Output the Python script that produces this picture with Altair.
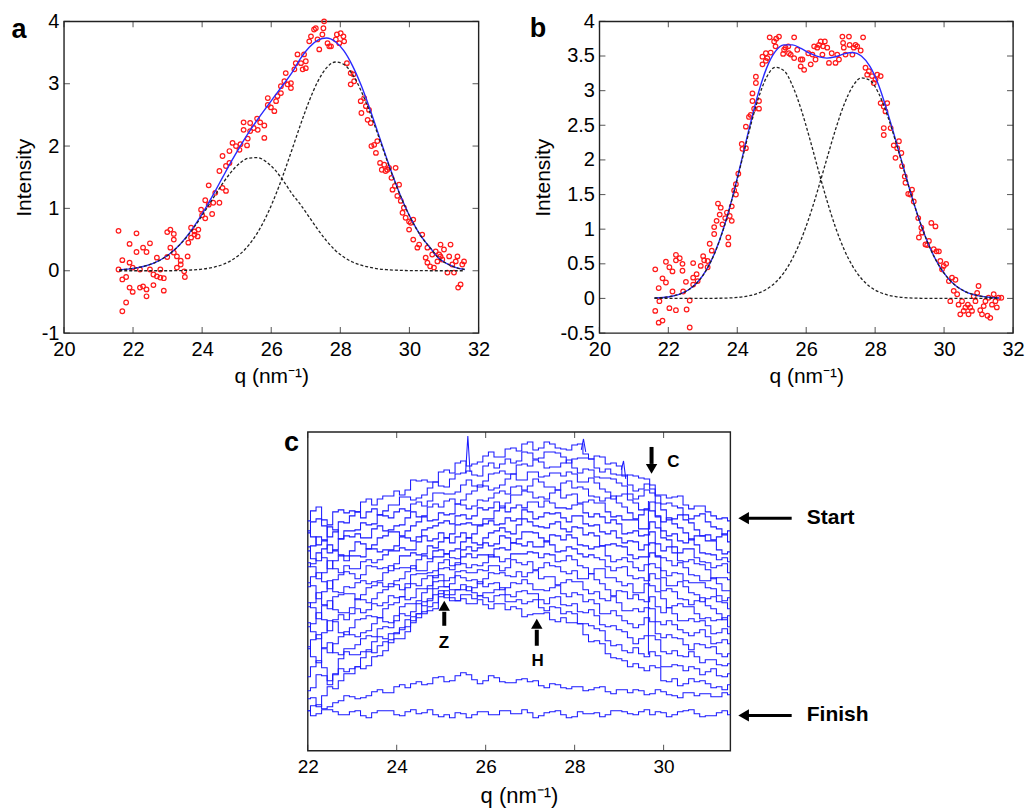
import altair as alt
import pandas as pd

FONT = "Liberation Sans"
TXT = "q (nm\u207b\u00b9)"

# ---------------- panel a ----------------
fit_q = [21.6, 21.85, 22.1, 22.35, 22.6, 22.85, 23.1, 23.35, 23.6, 23.85, 24.1, 24.35, 24.6, 24.85,
         25.1, 25.35, 25.6, 25.85, 26.1, 26.35, 26.6, 26.85, 27.1, 27.35, 27.6, 27.85, 28.1, 28.35,
         28.6, 28.85, 29.1, 29.35, 29.6, 29.85, 30.1, 30.35, 30.6, 30.85, 31.1, 31.35, 31.6]
a_fit = [0.014, 0.026, 0.045, 0.076, 0.123, 0.192, 0.288, 0.416, 0.582, 0.779, 1.004, 1.250, 1.505, 1.757,
         1.996, 2.218, 2.422, 2.614, 2.800, 2.987, 3.178, 3.407, 3.585, 3.698, 3.734, 3.678, 3.530, 3.291,
         2.978, 2.603, 2.195, 1.788, 1.404, 1.063, 0.775, 0.544, 0.368, 0.20, 0.11, 0.05, 0.02]
a_comp1 = [0.014, 0.026, 0.045, 0.076, 0.123, 0.192, 0.288, 0.415, 0.573, 0.762, 0.972, 1.192, 1.405, 1.590,
           1.729, 1.807, 1.814, 1.750, 1.622, 1.444, 1.236, 1.06, 0.86, 0.66, 0.48, 0.33, 0.22, 0.14,
           0.09, 0.055, 0.03, 0.017, 0.009, 0.004, 0.002, 0.001, 0, 0, 0, 0, 0]
a_comp2 = [0, 0, 0, 0, 0, 0, 0, 0.001, 0.009, 0.017, 0.032, 0.058, 0.100, 0.167,
           0.267, 0.411, 0.608, 0.864, 1.178, 1.543, 1.942, 2.347, 2.725, 3.038, 3.254, 3.348, 3.310, 3.151,
           2.888, 2.548, 2.165, 1.771, 1.395, 1.059, 0.773, 0.543, 0.368, 0.20, 0.11, 0.05, 0.02]
a_points = [
    (21.58, 0.64), (21.58, 0.02), (21.69, 0.17), (21.69, -0.14), (21.69, -0.65), (21.80, -0.51), (21.80, -0.10),
    (21.90, 0.13), (21.90, 0.43), (21.90, -0.27), (21.99, -0.34), (21.99, 0.05), (22.10, 0.60), (22.10, 0.30),
    (22.20, 0.02), (22.20, -0.27), (22.29, 0.37), (22.29, -0.25), (22.39, 0.30), (22.39, -0.30), (22.39, -0.41),
    (22.49, 0.44), (22.49, 0.02), (22.59, -0.06), (22.59, -0.23), (22.69, 0.21), (22.69, -0.09), (22.79, 0.02),
    (22.79, -0.11), (22.89, -0.12), (22.89, -0.32), (22.99, 0.62), (22.99, 0.22), (23.08, 0.66), (23.08, 0.37),
    (23.18, 0.59), (23.18, 0.50), (23.18, 0.29), (23.27, 0.23), (23.27, 0.05), (23.38, 0.16), (23.38, 0.10),
    (23.48, -0.01), (23.50, -0.10), (23.58, 0.23), (23.60, 0.45), (23.68, 0.53), (23.68, 0.69), (23.78, 0.58),
    (23.78, 0.63), (23.87, 0.55), (23.89, 0.66), (23.97, 0.98), (24.00, 0.89), (24.09, 1.13), (24.09, 0.84),
    (24.19, 1.37), (24.19, 1.06), (24.29, 0.91), (24.32, 1.09), (24.38, 1.25), (24.50, 1.09), (24.50, 1.60),
    (24.59, 1.33), (24.59, 1.84), (24.69, 1.28), (24.69, 1.68), (24.79, 1.73), (24.79, 1.92), (24.88, 2.05),
    (24.98, 2.00), (25.08, 1.94), (25.11, 2.03), (25.20, 2.38), (25.20, 2.26), (25.30, 2.01), (25.32, 2.12),
    (25.39, 2.37), (25.39, 2.24), (25.49, 2.29), (25.59, 2.44), (25.61, 2.26), (25.68, 2.38), (25.80, 2.33),
    (25.80, 2.13), (25.90, 2.77), (25.90, 2.66),
    (25.99, 2.62), (26.09, 2.56), (26.14, 2.72), (26.18, 2.80), (26.28, 2.85), (26.28, 2.96), (26.38, 3.04),
    (26.42, 3.17), (26.47, 2.99), (26.57, 2.93), (26.57, 3.01), (26.67, 3.23), (26.71, 3.33), (26.76, 3.47),
    (26.86, 3.33), (26.91, 3.23), (26.95, 3.47), (27.00, 3.36), (27.00, 3.25), (27.10, 3.68), (27.15, 3.76),
    (27.24, 3.87), (27.29, 3.89), (27.34, 3.71), (27.39, 3.55), (27.48, 3.79), (27.51, 3.89), (27.53, 4.00),
    (27.63, 3.65), (27.68, 3.60), (27.73, 3.60), (27.87, 3.71), (27.90, 3.79), (27.97, 3.65), (28.01, 3.81),
    (28.09, 3.76), (28.11, 3.68), (28.19, 3.33), (28.30, 3.17), (28.30, 2.99), (28.38, 3.15), (28.40, 3.04),
    (28.59, 2.72), (28.61, 2.53), (28.69, 2.77), (28.74, 2.64), (28.79, 2.42), (28.83, 2.58), (28.88, 2.37),
    (28.90, 2.00), (28.98, 2.02), (29.03, 1.89), (29.07, 2.08), (29.15, 1.73), (29.20, 1.62), (29.27, 1.70),
    (29.31, 1.60), (29.36, 1.62), (29.41, 1.65), (29.48, 1.49), (29.51, 1.30), (29.58, 1.36), (29.60, 1.65),
    (29.65, 1.20), (29.70, 1.38), (29.75, 1.12), (29.80, 0.93), (29.84, 1.01), (29.89, 0.85), (29.99, 0.66),
    (29.99, 0.79), (30.04, 0.77), (30.11, 0.82), (30.11, 0.50), (30.23, 0.37), (30.28, 0.42), (30.37, 0.58),
    (30.47, 0.21), (30.52, 0.13), (30.52, 0.37), (30.60, 0.07), (30.66, 0.26), (30.71, 0.05), (30.76, 0.31),
    (30.81, 0.15), (30.86, 0.26), (30.90, 0.42), (30.90, 0.23), (30.95, 0.18), (31.00, 0.34), (31.10, -0.03),
    (31.15, 0.23), (31.19, 0.42), (31.24, 0.10), (31.29, -0.03), (31.34, 0.15), (31.39, 0.23), (31.41, -0.27),
    (31.48, -0.22), (31.53, 0.10), (31.58, 0.15),
]
ab_xticks = [20, 22, 24, 26, 28, 30, 32]
a_yticks = [-1, 0, 1, 2, 3, 4]

# ---------------- panel b ----------------
b_fit = [0.006, 0.014, 0.032, 0.066, 0.129, 0.237, 0.408, 0.663, 1.009, 1.444, 1.943, 2.464, 2.946, 3.325,
         3.563, 3.661, 3.66, 3.61, 3.54, 3.49, 3.47, 3.49, 3.53, 3.55, 3.50, 3.35, 3.08, 2.70,
         2.28, 1.84, 1.41, 1.034, 0.720, 0.477, 0.300, 0.180, 0.103, 0.056, 0.029, 0.014, 0.007]
b_comp1 = [0.006, 0.014, 0.032, 0.066, 0.129, 0.237, 0.408, 0.661, 1.005, 1.435, 1.924, 2.425, 2.872, 3.193,
           3.336, 3.291, 3.075, 2.734, 2.311, 1.855, 1.416, 1.026, 0.707, 0.463, 0.288, 0.170, 0.096, 0.051,
           0.026, 0.012, 0.005, 0.002, 0.001, 0, 0, 0, 0, 0, 0, 0, 0]
b_comp2 = [0, 0, 0, 0, 0, 0, 0, 0.002, 0.004, 0.009, 0.019, 0.039, 0.074, 0.132,
           0.227, 0.370, 0.575, 0.848, 1.190, 1.589, 2.018, 2.438, 2.801, 3.062, 3.184, 3.149, 2.963, 2.651,
           2.257, 1.828, 1.408, 1.032, 0.719, 0.477, 0.300, 0.180, 0.103, 0.056, 0.029, 0.014, 0.007]
b_points = [
    (21.62, 0.42), (21.62, -0.18), (21.72, 0.15), (21.72, -0.35), (21.74, -0.04), (21.83, 0.29), (21.83, -0.32),
    (21.93, 0.53), (21.93, 0.23), (22.03, 0.45), (22.03, -0.14), (22.12, 0.39), (22.12, 0.10), (22.22, 0.63),
    (22.22, 0.55), (22.22, -0.17), (22.33, 0.58), (22.41, 0.40), (22.41, 0.50), (22.43, 0.10), (22.51, 0.24),
    (22.53, -0.16), (22.62, -0.42), (22.62, -0.03), (22.72, 0.51), (22.72, 0.30), (22.72, 0.20), (22.82, 0.35),
    (22.85, 0.25), (22.94, 0.47), (23.01, 0.61), (23.04, 0.55), (23.14, 0.45), (23.14, 0.54), (23.20, 0.79),
    (23.26, 0.69), (23.33, 0.93), (23.33, 1.03), (23.40, 1.12), (23.44, 1.37), (23.49, 1.21), (23.52, 1.31),
    (23.57, 1.07), (23.65, 1.16), (23.70, 1.24), (23.74, 0.88), (23.74, 0.78), (23.78, 1.19), (23.84, 1.33),
    (23.84, 1.12), (23.91, 1.56), (23.96, 1.65), (23.96, 1.50), (24.03, 1.80), (24.13, 2.23), (24.15, 2.16),
    (24.25, 2.17), (24.25, 2.48), (24.34, 2.62), (24.39, 2.65), (24.44, 2.96), (24.44, 2.85), (24.49, 2.74),
    (24.54, 3.11), (24.54, 3.20), (24.63, 2.85), (24.63, 2.74), (24.73, 3.49), (24.73, 3.38), (24.83, 3.54),
    (24.83, 3.43), (24.87, 3.47), (24.94, 3.77), (24.97, 3.55), (25.07, 3.71), (25.11, 3.64), (25.13, 3.75),
    (25.21, 3.78), (25.33, 3.53), (25.36, 3.59), (25.40, 3.62), (25.48, 3.64), (25.50, 3.54), (25.55, 3.52),
    (25.65, 3.77), (25.65, 3.47), (25.74, 3.59), (25.84, 3.45), (25.84, 3.35), (26.06, 3.54),
    (25.89, 3.45), (25.94, 3.30), (26.13, 3.38), (26.18, 3.52), (26.23, 3.64), (26.27, 3.45), (26.32, 3.62),
    (26.37, 3.66), (26.42, 3.71), (26.47, 3.52), (26.49, 3.64), (26.54, 3.71), (26.61, 3.62), (26.66, 3.40),
    (26.74, 3.54), (26.85, 3.40), (26.90, 3.52), (26.95, 3.45), (27.05, 3.78), (27.07, 3.69), (27.09, 3.62),
    (27.14, 3.52), (27.24, 3.78), (27.26, 3.66), (27.34, 3.52), (27.38, 3.62), (27.43, 3.66), (27.48, 3.64),
    (27.58, 3.58), (27.65, 3.77), (27.72, 3.33), (27.77, 3.23), (27.82, 3.28), (27.91, 3.21), (27.96, 3.11),
    (28.01, 3.16), (28.06, 3.23), (28.16, 3.21), (28.16, 2.82), (28.25, 2.77), (28.30, 2.70), (28.35, 2.82),
    (28.25, 2.46), (28.25, 2.36), (28.45, 2.46), (28.54, 2.21), (28.59, 2.03), (28.64, 2.17), (28.69, 2.27),
    (28.76, 2.10), (28.78, 1.91), (28.86, 1.76), (28.88, 1.67), (28.96, 1.51), (29.02, 1.50), (29.07, 1.57),
    (29.12, 1.40), (29.25, 1.16), (29.27, 0.88), (29.34, 1.02), (29.36, 0.95), (29.46, 0.78), (29.51, 0.77),
    (29.56, 0.83), (29.63, 1.09), (29.70, 0.71), (29.75, 1.04), (29.78, 0.68), (29.85, 0.68), (29.89, 0.54),
    (29.94, 0.42), (29.99, 0.47), (30.06, 0.50), (30.14, 0.25), (30.18, -0.04), (30.23, 0.30), (30.28, 0.11),
    (30.33, 0.27), (30.38, 0.06), (30.42, -0.09), (30.47, -0.23), (30.52, -0.04), (30.57, -0.18), (30.62, -0.13),
    (30.69, -0.09), (30.71, -0.23), (30.76, -0.13), (30.81, -0.18), (30.86, 0.03), (30.91, -0.04), (30.96, 0.08),
    (31.00, 0.18), (31.05, -0.17), (31.10, -0.23), (31.15, -0.11), (31.20, -0.04), (31.26, -0.25), (31.29, 0.01),
    (31.34, -0.28), (31.39, -0.09), (31.44, 0.06), (31.49, -0.04), (31.53, -0.13), (31.58, 0.01), (31.66, 0.01),
]
b_yticks = [-0.5, 0, 0.5, 1, 1.5, 2, 2.5, 3, 3.5, 4]

# ---------------- panel c (waterfall of scans, arbitrary offset units) ----------------
c_q = [22.0, 22.125, 22.25, 22.375, 22.5, 22.625, 22.75, 22.875, 23.0, 23.125, 23.25, 23.375, 23.5, 23.625,
       23.75, 23.875, 24.0, 24.125, 24.25, 24.375, 24.5, 24.625, 24.75, 24.875, 25.0, 25.125, 25.25, 25.375,
       25.5, 25.625, 25.75, 25.875, 26.0, 26.125, 26.25, 26.375, 26.5, 26.625, 26.75, 26.875, 27.0, 27.125,
       27.25, 27.375, 27.5, 27.625, 27.75, 27.875, 28.0, 28.125, 28.25, 28.375, 28.5, 28.625, 28.75, 28.875,
       29.0, 29.125, 29.25, 29.375, 29.5, 29.625, 29.75, 29.875, 30.0, 30.125, 30.25, 30.375, 30.5, 30.625,
       30.75, 30.875, 31.0, 31.125, 31.25, 31.375, 31.5]
c_scan01 = [230, 240, 244, 231, 226, 239, 241, 238, 240, 239, 249, 252, 246, 252, 255, 255, 260, 256, 261, 271,
            270, 271, 269, 269, 279, 281, 278, 288, 290, 285, 287, 289, 295, 299, 294, 294, 302, 303, 300, 307,
            309, 301, 303, 309, 307, 303, 302, 301, 306, 307, 297, 292, 295, 294, 287, 288, 285, 275, 276, 275,
            273, 272, 262, 256, 256, 253, 254, 255, 246, 242, 245, 245, 239, 235, 232, 233, 230]
c_scan02 = [218, 229, 232, 225, 214, 219, 229, 228, 235, 239, 233, 239, 242, 236, 240, 246, 246, 254, 254, 251,
            253, 256, 263, 269, 265, 264, 272, 277, 278, 280, 276, 275, 285, 288, 283, 287, 292, 288, 290, 299,
            298, 292, 293, 299, 299, 298, 294, 288, 292, 293, 293, 292, 283, 279, 282, 277, 276, 276, 266, 260,
            262, 267, 266, 255, 247, 248, 245, 243, 236, 232, 235, 237, 229, 224, 222, 216, 220]
c_scan03 = [220, 214, 206, 210, 224, 221, 212, 220, 220, 221, 228, 226, 227, 236, 235, 233, 239, 242, 240, 247,
            249, 245, 250, 258, 258, 257, 257, 259, 266, 271, 265, 264, 270, 277, 278, 280, 277, 277, 286, 287,
            285, 291, 289, 283, 284, 284, 288, 291, 283, 278, 282, 281, 274, 273, 273, 272, 268, 265, 257, 252,
            255, 261, 258, 248, 241, 231, 232, 236, 231, 228, 221, 215, 216, 211, 214, 217, 209]
c_scan04 = [200, 205, 214, 211, 198, 201, 212, 215, 214, 217, 213, 213, 222, 225, 220, 221, 225, 226, 233, 239,
            234, 235, 244, 247, 244, 250, 252, 247, 251, 257, 260, 266, 265, 261, 263, 266, 272, 277, 271, 271,
            279, 279, 274, 275, 278, 278, 275, 279, 277, 269, 269, 273, 268, 262, 259, 252, 255, 257, 251, 248,
            241, 242, 249, 235, 229, 233, 227, 223, 218, 211, 215, 215, 210, 210, 201, 197, 199]
c_scan05 = [204, 192, 190, 202, 206, 200, 196, 195, 200, 209, 207, 202, 206, 213, 215, 219, 219, 215, 220, 225,
            229, 234, 230, 231, 238, 236, 237, 247, 246, 242, 245, 251, 250, 253, 258, 260, 257, 264, 265, 261,
            265, 272, 269, 264, 264, 261, 268, 270, 263, 264, 262, 255, 254, 250, 253, 255, 248, 244, 238, 232,
            236, 241, 240, 234, 220, 215, 217, 210, 208, 212, 206, 198, 197, 196, 191, 193, 189]
c_scan06 = [184, 187, 198, 193, 182, 190, 195, 190, 195, 195, 194, 202, 202, 199, 201, 201, 205, 214, 213, 210,
            214, 221, 223, 225, 228, 230, 227, 235, 236, 232, 235, 243, 241, 243, 249, 243, 248, 256, 256, 260,
            259, 253, 254, 252, 258, 261, 253, 256, 257, 248, 249, 251, 248, 248, 239, 234, 235, 231, 231, 231,
            222, 222, 229, 223, 213, 211, 204, 198, 202, 202, 193, 189, 188, 183, 185, 187, 178]
c_scan07 = [188, 184, 172, 178, 190, 182, 178, 185, 182, 182, 189, 191, 188, 191, 196, 200, 200, 203, 201, 201,
            209, 215, 210, 212, 218, 213, 217, 226, 227, 228, 226, 226, 232, 232, 240, 245, 239, 243, 246, 243,
            249, 249, 244, 250, 248, 243, 243, 242, 246, 247, 238, 234, 237, 234, 228, 231, 227, 217, 218, 220,
            215, 216, 219, 207, 200, 204, 198, 190, 189, 191, 187, 186, 181, 172, 173, 173, 171]
c_scan08 = [164, 174, 178, 169, 162, 171, 176, 179, 177, 172, 176, 185, 184, 182, 183, 180, 187, 195, 195, 198,
            196, 197, 205, 203, 209, 213, 208, 214, 218, 213, 217, 225, 227, 230, 226, 227, 233, 230, 232, 241,
            239, 232, 234, 238, 237, 238, 233, 229, 235, 235, 227, 225, 226, 219, 217, 220, 213, 208, 210, 209,
            201, 206, 208, 195, 193, 190, 185, 188, 183, 176, 175, 170, 170, 173, 167, 160, 160]
c_scan09 = [168, 165, 152, 159, 170, 159, 158, 164, 163, 168, 170, 167, 169, 170, 178, 185, 182, 183, 183, 182,
            191, 195, 192, 200, 201, 197, 200, 202, 209, 213, 208, 206, 213, 218, 220, 223, 219, 217, 226, 232,
            229, 225, 224, 223, 227, 229, 222, 219, 224, 223, 216, 218, 215, 205, 206, 207, 205, 204, 196, 192,
            194, 194, 198, 194, 180, 175, 178, 177, 170, 168, 168, 168, 163, 162, 155, 150, 153]
c_scan10 = [144, 148, 158, 146, 142, 154, 156, 157, 157, 151, 156, 163, 165, 168, 164, 164, 170, 172, 179, 185,
            180, 180, 189, 194, 194, 197, 193, 192, 201, 204, 200, 203, 208, 205, 207, 215, 213, 208, 212, 219,
            219, 218, 213, 209, 216, 215, 211, 216, 213, 206, 205, 202, 204, 205, 195, 189, 191, 193, 189, 183,
            180, 186, 187, 183, 173, 165, 165, 169, 164, 158, 156, 149, 152, 154, 149, 148, 142]
c_scan11 = [148, 143, 132, 145, 150, 141, 138, 138, 143, 152, 151, 148, 152, 158, 161, 167, 166, 161, 167, 176,
            177, 177, 178, 180, 188, 191, 185, 186, 194, 197, 193, 196, 196, 194, 202, 203, 201, 208, 207, 205,
            209, 204, 204, 210, 206, 199, 200, 204, 202, 197, 194, 196, 193, 191, 184, 180, 183, 184, 175, 172,
            173, 170, 177, 172, 160, 162, 159, 152, 151, 146, 150, 153, 145, 142, 137, 131, 135]
c_scan12 = [124, 127, 138, 131, 120, 131, 136, 131, 137, 142, 138, 141, 147, 145, 148, 155, 153, 154, 163, 167,
            165, 172, 175, 173, 182, 183, 181, 188, 187, 183, 186, 185, 188, 196, 194, 189, 192, 197, 197, 197,
            199, 198, 193, 197, 196, 189, 190, 195, 191, 185, 183, 177, 182, 182, 173, 173, 169, 165, 167, 158,
            158, 167, 165, 159, 152, 143, 145, 147, 144, 144, 137, 132, 133, 130, 131, 133, 124]
c_scan13 = [128, 119, 112, 118, 130, 129, 118, 116, 123, 131, 132, 135, 134, 133, 142, 146, 148, 154, 151, 153,
            162, 162, 165, 175, 176, 170, 173, 179, 180, 178, 178, 181, 180, 185, 185, 180, 183, 191, 188, 186,
            189, 181, 183, 188, 185, 184, 179, 177, 180, 172, 172, 177, 171, 167, 161, 155, 160, 159, 152, 156,
            151, 149, 154, 144, 138, 143, 137, 130, 130, 132, 129, 130, 125, 117, 118, 122, 117]
c_scan14 = [102, 111, 116, 102, 98, 107, 114, 119, 116, 114, 118, 120, 127, 133, 129, 128, 135, 144, 147, 147,
            150, 158, 162, 169, 170, 164, 167, 175, 173, 170, 171, 167, 172, 178, 177, 178, 175, 174, 179, 174,
            178, 180, 172, 174, 174, 166, 168, 171, 169, 169, 161, 157, 159, 152, 150, 154, 148, 140, 140, 142,
            139, 143, 142, 129, 126, 130, 126, 121, 118, 115, 118, 121, 114, 107, 108, 111, 107]
c_scan15 = [104, 94, 88, 103, 108, 98, 96, 102, 102, 106, 112, 115, 114, 122, 124, 123, 130, 137, 135, 139,
            147, 145, 152, 162, 164, 164, 161, 161, 166, 160, 163, 169, 164, 167, 168, 161, 163, 168, 167, 171,
            167, 161, 161, 160, 163, 165, 157, 154, 158, 156, 149, 151, 147, 137, 137, 140, 135, 130, 127, 123,
            126, 133, 129, 117, 113, 116, 113, 112, 106, 101, 107, 106, 103, 104, 97, 94, 97]
c_scan16 = [74, 84, 90, 83, 70, 77, 92, 99, 96, 96, 99, 99, 109, 114, 112, 117, 118, 121, 131, 130,
            137, 149, 150, 156, 160, 153, 156, 161, 161, 164, 158, 155, 158, 158, 161, 163, 156, 154, 159, 160,
            157, 157, 151, 147, 153, 154, 146, 145, 147, 139, 138, 141, 135, 126, 124, 125, 121, 119, 113, 107,
            112, 115, 115, 111, 99, 97, 100, 95, 94, 99, 94, 88, 91, 91, 86, 85, 87]
c_scan17 = [60, 63, 76, 75, 66, 76, 82, 79, 82, 84, 93, 101, 98, 105, 109, 108, 117, 123, 124, 134,
            137, 137, 144, 148, 157, 160, 153, 150, 156, 156, 152, 155, 153, 149, 155, 156, 149, 149, 151, 147,
            149, 151, 143, 140, 144, 143, 137, 139, 137, 127, 127, 125, 122, 120, 110, 105, 106, 100, 98, 103,
            97, 94, 99, 95, 84, 84, 86, 85, 80, 84, 82, 76, 79, 82, 75, 74, 77]
c_scan18 = [52, 53, 44, 55, 64, 62, 70, 77, 77, 84, 82, 85, 94, 95, 100, 111, 112, 112, 119, 128,
            133, 139, 140, 142, 154, 156, 150, 150, 152, 147, 147, 151, 146, 142, 147, 147, 141, 144, 142, 134,
            136, 137, 137, 138, 131, 129, 133, 128, 128, 127, 116, 109, 110, 107, 97, 93, 92, 90, 84, 87,
            83, 80, 85, 83, 70, 69, 72, 65, 67, 72, 69, 70, 67, 63, 64, 61, 66]
c_scan19 = [40, 45, 46, 42, 44, 48, 50, 55, 54, 52, 53, 55, 59, 61, 58, 58, 64, 66, 63, 67,
            69, 66, 67, 73, 74, 69, 70, 75, 78, 76, 71, 67, 70, 75, 73, 69, 68, 68, 71, 72,
            69, 70, 65, 63, 67, 66, 63, 62, 64, 64, 60, 61, 63, 64, 59, 57, 61, 61, 58, 61,
            60, 56, 57, 61, 59, 56, 55, 53, 58, 58, 55, 57, 57, 54, 54, 58, 56]
c_scan20 = [40, 35, 37, 41, 41, 39, 36, 36, 39, 40, 35, 33, 38, 40, 40, 40, 36, 35, 39, 41,
            37, 38, 41, 36, 34, 36, 33, 38, 37, 33, 36, 39, 39, 36, 36, 40, 40, 37, 37, 41,
            38, 33, 35, 38, 39, 40, 36, 33, 34, 39, 37, 37, 38, 34, 36, 40, 40, 39, 37, 36,
            39, 41, 36, 39, 38, 34, 36, 39, 40, 41, 37, 34, 35, 35, 38, 40, 36]
c_spike_q = [[25.55, 25.6, 25.65], [28.15, 28.2, 28.25], [29.05, 29.1, 29.15], [29.66, 29.66]]
c_spike_v = [[278, 315, 279], [301, 312, 299], [281, 290, 272], [250, 96]]
c_xticks = [22, 24, 26, 28, 30]

# annotations (panel c data units)
c_arrow_q = [29.73, 25.07, 27.15]
c_arrow_top = [304, 139, 121]
c_arrow_bot = [287, 125, 105]
c_head_v = [282, 145, 127]
c_head_shape = ["triangle-down", "triangle-up", "triangle-up"]
c_letters = ["C", "Z", "H"]
c_letter_q = [30.22, 25.06, 27.17]
c_letter_v = [289, 108, 90]
side_labels = ["Start", "Finish"]
side_v = [232.7, 35.3]
side_head_q = 31.80
side_tail_q = 32.88
side_text_q = 33.22

# ---------------- helpers ----------------
AX_X = dict(labelPadding=6, titlePadding=6, labelFlush=False, labelOverlap=False,
            labelExpr="toString(datum.value)")
AX_Y = dict(labelPadding=5, titlePadding=7, labelFlush=False, labelOverlap=False,
            labelExpr="toString(datum.value)")


def enc_x(dom, ticks, **kw):
    return alt.X("q:Q", scale=alt.Scale(domain=dom, nice=False, zero=False),
                 axis=alt.Axis(values=ticks, title=TXT, **{**AX_X, **kw}))


def enc_y(dom, ticks):
    if ticks is None:
        return alt.Y("v:Q", scale=alt.Scale(domain=dom, nice=False, zero=False), axis=None)
    return alt.Y("v:Q", scale=alt.Scale(domain=dom, nice=False, zero=False),
                 axis=alt.Axis(values=ticks, title="Intensity", **AX_Y))


def inner_ticks(xt, yt, xdom, ydom, ex, ey, L=6):
    out = []
    nb = len(xt)
    bot = pd.DataFrame({"q": xt, "v": [ydom[0]] * nb})
    top = pd.DataFrame({"q": xt, "v": [ydom[1]] * nb})
    out.append(alt.Chart(bot).mark_tick(orient="vertical", size=L, thickness=1.1, color="#222",
                                        yOffset=-L / 2).encode(x=ex, y=ey))
    out.append(alt.Chart(top).mark_tick(orient="vertical", size=L, thickness=1.1, color="#222",
                                        yOffset=L / 2).encode(x=ex, y=ey))
    if yt:
        ny = len(yt)
        lef = pd.DataFrame({"q": [xdom[0]] * ny, "v": yt})
        rig = pd.DataFrame({"q": [xdom[1]] * ny, "v": yt})
        out.append(alt.Chart(lef).mark_tick(orient="horizontal", size=L, thickness=1.1, color="#222",
                                            xOffset=L / 2).encode(x=ex, y=ey))
        out.append(alt.Chart(rig).mark_tick(orient="horizontal", size=L, thickness=1.1, color="#222",
                                            xOffset=-L / 2).encode(x=ex, y=ey))
    return out


def fit_panel(points, fit, c1, c2, ydom, yt, label, label_q, label_v, w, h):
    xdom = [20, 32]
    ex = enc_x(xdom, ab_xticks)
    ey = enc_y(ydom, yt)
    pts = pd.DataFrame(points, columns=["q", "v"])
    curves = pd.DataFrame({"q": fit_q * 2, "v": c1 + c2, "k": ["c1"] * len(fit_q) + ["c2"] * len(fit_q)})
    fitdf = pd.DataFrame({"q": fit_q, "v": fit})
    lab = pd.DataFrame({"q": [label_q], "v": [label_v], "t": [label]})
    layers = [
        alt.Chart(pts).mark_point(shape="circle", filled=False, color="#ff1a1a", size=21, strokeWidth=1.25,
                                  opacity=1).encode(x=ex, y=ey),
        alt.Chart(fitdf).mark_line(color="#2a2aff", strokeWidth=1.4, interpolate="monotone").encode(x=ex, y=ey),
        alt.Chart(curves).mark_line(color="#222", strokeWidth=1.3, strokeDash=[3, 2],
                                    interpolate="monotone").encode(x=ex, y=ey, detail="k:N"),
    ]
    layers += inner_ticks(ab_xticks, yt, xdom, ydom, ex, ey)
    layers.append(alt.Chart(lab).mark_text(align="left", baseline="alphabetic", font=FONT, fontSize=27,
                                           fontWeight="bold", color="black").encode(x=ex, y=ey, text="t:N"))
    return alt.layer(*layers).properties(width=w, height=h)


panel_a = fit_panel(a_points, a_fit, a_comp1, a_comp2, [-1, 4], a_yticks, "a", 18.48, 3.74, 415, 312)
panel_b = fit_panel(b_points, b_fit, b_comp1, b_comp2, [-0.5, 4], b_yticks, "b", 17.98, 3.77, 414, 312)

# ---------------- panel c ----------------
scans = [c_scan01, c_scan02, c_scan03, c_scan04, c_scan05, c_scan06, c_scan07, c_scan08, c_scan09, c_scan10,
         c_scan11, c_scan12, c_scan13, c_scan14, c_scan15, c_scan16, c_scan17, c_scan18, c_scan19, c_scan20]
rows = []
for k, vals in enumerate(scans):
    for q, v in zip(c_q, vals):
        rows.append({"q": q, "v": v, "s": "s%02d" % k})
cdf = pd.DataFrame(rows)
srows = []
for k, (qs, vs) in enumerate(zip(c_spike_q, c_spike_v)):
    for q, v in zip(qs, vs):
        srows.append({"q": q, "v": v, "s": "spike%d" % k})
sdf = pd.DataFrame(srows)

cx_dom = [22, 31.5]
cy_dom = [0, 319]
cex = enc_x(cx_dom, c_xticks, labelPadding=7, titlePadding=9, labelFontSize=19, titleFontSize=22)
cey = enc_y(cy_dom, None)

arrows = pd.DataFrame({"q": c_arrow_q, "v": c_arrow_top, "v2": c_arrow_bot})
heads = pd.DataFrame({"q": c_arrow_q, "v": c_head_v, "shape": c_head_shape})
letters = pd.DataFrame({"q": c_letter_q, "v": c_letter_v, "t": c_letters})
side_shafts = pd.DataFrame({"q": [side_head_q] * 2, "q2": [side_tail_q] * 2, "v": side_v})
side_heads = pd.DataFrame({"q": [side_head_q] * 2, "v": side_v})
side_text = pd.DataFrame({"q": [side_text_q] * 2, "v": side_v, "t": side_labels})
c_label = pd.DataFrame({"q": [21.47], "v": [300], "t": ["c"]})

c_layers = [
    alt.Chart(cdf).mark_line(color="#1a1aff", strokeWidth=1.05, interpolate="step").encode(
        x=cex, y=cey, detail="s:N"),
    alt.Chart(sdf).mark_line(color="#1a1aff", strokeWidth=1.05).encode(x=cex, y=cey, detail="s:N"),
]
c_layers += inner_ticks(c_xticks, None, cx_dom, cy_dom, cex, cey)
c_layers += [
    alt.Chart(arrows).mark_rule(color="black", strokeWidth=4).encode(x=cex, y=cey, y2="v2:Q"),
    alt.Chart(heads).mark_point(filled=True, color="black", size=130, opacity=1).encode(
        x=cex, y=cey, shape=alt.Shape("shape:N", scale=None)),
    alt.Chart(letters).mark_text(align="center", baseline="middle", font=FONT, fontSize=17,
                                 fontWeight="bold", color="black").encode(x=cex, y=cey, text="t:N"),
    alt.Chart(side_shafts).mark_rule(color="black", strokeWidth=3).encode(x=cex, x2="q2:Q", y=cey),
    alt.Chart(side_heads).mark_point(shape="triangle-left", filled=True, color="black", size=150,
                                     opacity=1).encode(x=cex, y=cey),
    alt.Chart(side_text).mark_text(align="left", baseline="middle", font=FONT, fontSize=21,
                                   fontWeight="bold", color="black").encode(x=cex, y=cey, text="t:N"),
    alt.Chart(c_label).mark_text(align="left", baseline="alphabetic", font=FONT, fontSize=27,
                                 fontWeight="bold", color="black").encode(x=cex, y=cey, text="t:N"),
]
panel_c = alt.layer(*c_layers).properties(width=423, height=319)

spacer = alt.Chart(pd.DataFrame({"q": [0]})).mark_point(size=0, opacity=0).encode(
    x=alt.X("q:Q", axis=None), y=alt.Y("q:Q", axis=None)
).properties(width=219, height=10, view=alt.ViewBackground(strokeOpacity=0))

top_row = alt.hconcat(panel_a, panel_b, spacing=38)
bottom_row = alt.hconcat(spacer, panel_c, spacing=0)

chart = alt.vconcat(top_row, bottom_row, spacing=41).properties(
    padding={"left": 10, "top": 10, "right": 0, "bottom": 0},
    background="white",
).configure_view(stroke="#222", strokeWidth=1.4).configure_axis(
    labelFont=FONT, titleFont=FONT, labelColor="black", titleColor="black",
    labelFontSize=20, titleFontSize=21, titleFontWeight="normal",
    ticks=False, domain=False, grid=False,
)

chart.save("out.html", embed_options={"renderer": "svg", "actions": False})
